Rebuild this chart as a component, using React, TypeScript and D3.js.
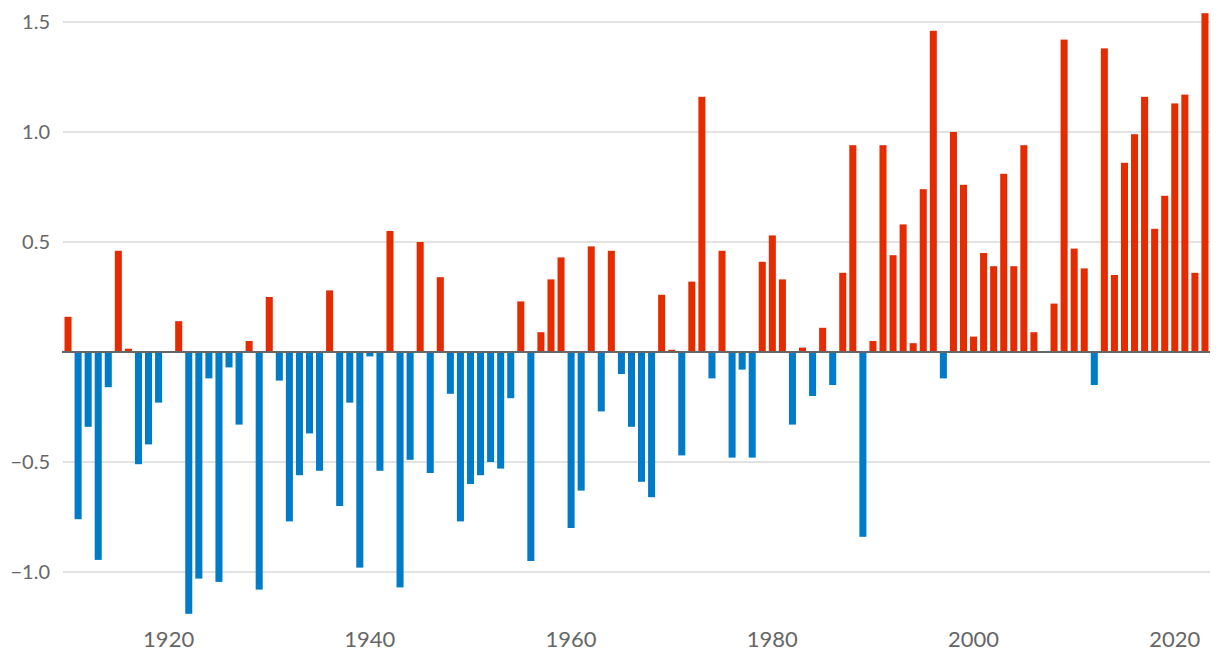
import React from "react";
import * as d3 from "d3";

const years: number[] = d3.range(1910, 2024);
const anomalies: number[] = [
  0.16, -0.76, -0.34, -0.945, -0.16, 0.46, 0.015, -0.51, -0.42, -0.23,
  0, 0.14, -1.19, -1.03, -0.12, -1.045, -0.07, -0.33, 0.05, -1.08,
  0.25, -0.13, -0.77, -0.56, -0.37, -0.54, 0.28, -0.70, -0.23, -0.98,
  -0.02, -0.54, 0.55, -1.07, -0.49, 0.50, -0.55, 0.34, -0.19, -0.77,
  -0.60, -0.56, -0.50, -0.53, -0.21, 0.23, -0.95, 0.09, 0.33, 0.43,
  -0.80, -0.63, 0.48, -0.27, 0.46, -0.10, -0.34, -0.59, -0.66, 0.26,
  0.01, -0.47, 0.32, 1.16, -0.12, 0.46, -0.48, -0.08, -0.48, 0.41,
  0.53, 0.33, -0.33, 0.02, -0.20, 0.11, -0.15, 0.36, 0.94, -0.84,
  0.05, 0.94, 0.44, 0.58, 0.04, 0.74, 1.46, -0.12, 1.00, 0.76,
  0.07, 0.45, 0.39, 0.81, 0.39, 0.94, 0.09, 0, 0.22, 1.42,
  0.47, 0.38, -0.15, 1.38, 0.35, 0.86, 0.99, 1.16, 0.56, 0.71,
  1.13, 1.17, 0.36, 1.54,
];
const yTicks: number[] = [-1.0, -0.5, 0.5, 1.0, 1.5];
const xTicks: number[] = [1920, 1940, 1960, 1980, 2000, 2020];

const W = 1220;
const H = 666;
const left = 63;
const right = 1210;

export default function App() {
  const x = d3
    .scaleBand<number>()
    .domain(years)
    .range([left, right])
    .paddingInner(0.3)
    .paddingOuter(0.15);
  const y = d3.scaleLinear().domain([-1.0, 1.5]).range([572, 22]);
  const font = "Lato, 'Open Sans', sans-serif";
  return (
    <svg
      width={W}
      height={H}
      style={{ position: "absolute", left: 0, top: 0, display: "block", background: "#fff" }}
    >
      {yTicks.map((t) => (
        <g key={t}>
          <line x1={left} x2={right} y1={y(t)} y2={y(t)} stroke="#d9d9d9" strokeWidth={1.6} />
          <text
            x={50}
            y={y(t)}
            dy="0.35em"
            textAnchor="end"
            fontFamily={font}
            fontSize={20}
            fill="#666"
          >
            {d3.format(".1f")(t)}
          </text>
        </g>
      ))}
      {years.map((yr, i) => {
        const v = anomalies[i];
        return (
          <rect
            key={yr}
            x={x(yr)}
            width={x.bandwidth()}
            y={Math.min(y(v), y(0))}
            height={Math.abs(y(v) - y(0))}
            fill={v >= 0 ? "#e52b00" : "#007bc7"}
          />
        );
      })}
      <line x1={left - 1} x2={right} y1={y(0)} y2={y(0)} stroke="#666" strokeWidth={2} />
      {xTicks.map((t) => (
        <text
          key={t}
          x={(x(t) ?? 0) + x.bandwidth() / 2}
          y={647}
          textAnchor="middle"
          fontFamily={font}
          fontSize={22}
          fill="#666"
        >
          {t}
        </text>
      ))}
    </svg>
  );
}
